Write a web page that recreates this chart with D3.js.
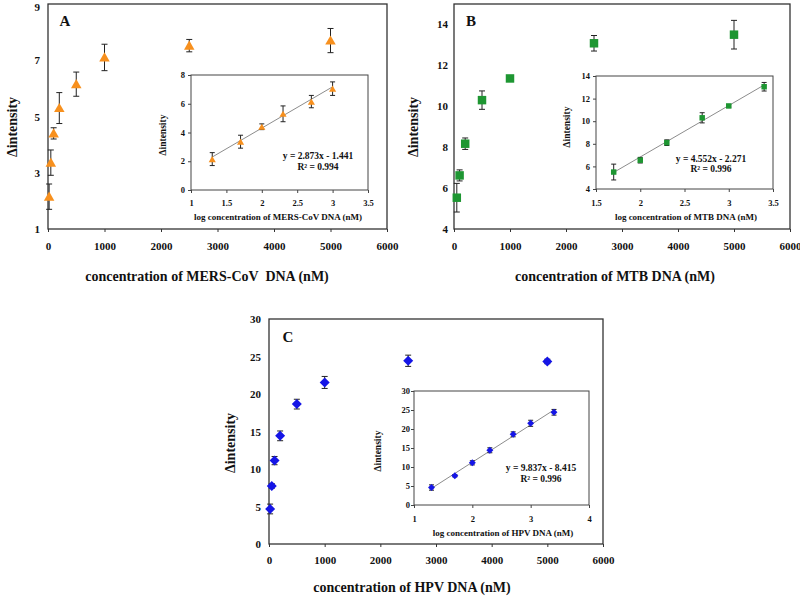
<!DOCTYPE html>
<html>
<head>
<meta charset="utf-8">
<script src="https://cdn.jsdelivr.net/npm/d3@7"></script>
<style>
  html, body { margin: 0; padding: 0; background: #fff; }
  svg text { font-family: "Liberation Serif", "Times New Roman", serif; font-weight: bold; fill: #111; }
</style>
</head>
<body>
<svg id="chart" width="800" height="597"></svg>
<script>
// ---------------- DATA ----------------
// Panel A : MERS-CoV
const concA   = [20, 50, 100, 200, 500, 1000, 2500, 5000];
const intA    = [2.15, 3.36, 4.4, 5.3, 6.15, 7.1, 7.52, 7.7];
const errA    = [0.45, 0.45, 0.2, 0.55, 0.43, 0.47, 0.22, 0.43];
const logA    = [1.3, 1.7, 2, 2.3, 2.7, 3];
const logIntA = [2.15, 3.36, 4.4, 5.3, 6.15, 7.05];
const logErrA = [0.45, 0.45, 0.2, 0.55, 0.43, 0.47];
const fitA    = { slope: 2.873, intercept: -1.441, eq: "y = 2.873x - 1.441", r2: "R² = 0.994" };

// Panel B : MTB
const concB   = [50, 100, 200, 500, 1000, 2500, 5000];
const intB    = [5.53, 6.62, 8.17, 10.3, 11.36, 13.08, 13.5];
const errB    = [0.7, 0.27, 0.28, 0.45, 0.1, 0.38, 0.7];
const logB    = [1.7, 2, 2.3, 2.7, 3, 3.4];
const logIntB = [5.5, 6.55, 8.1, 10.3, 11.35, 13.05];
const logErrB = [0.7, 0.25, 0.25, 0.45, 0.1, 0.38];
const fitB    = { slope: 4.552, intercept: -2.271, eq: "y = 4.552x - 2.271", r2: "R² = 0.996" };

// Panel C : HPV
const concC   = [20, 50, 100, 200, 500, 1000, 2500, 5000];
const intC    = [4.67, 7.74, 11.12, 14.42, 18.65, 21.54, 24.43, 24.34];
const errC    = [0.65, 0.3, 0.55, 0.65, 0.65, 0.8, 0.75, 0.3];
const logC    = [1.3, 1.7, 2, 2.3, 2.7, 3, 3.4];
const logIntC = [4.6, 7.7, 11.1, 14.4, 18.6, 21.5, 24.4];
const logErrC = [0.7, 0.3, 0.55, 0.65, 0.65, 0.8, 0.75];
const fitC    = { slope: 9.837, intercept: -8.415, eq: "y = 9.837x - 8.415", r2: "R² = 0.996" };

// Axis ticks
const mainXTicks  = [0, 1000, 2000, 3000, 4000, 5000, 6000];
const mainYTicksA = [1, 3, 5, 7, 9];
const mainYTicksB = [4, 6, 8, 10, 12, 14];
const mainYTicksC = [0, 5, 10, 15, 20, 25, 30];
const insXTicksA  = [1, 1.5, 2, 2.5, 3, 3.5];
const insYTicksA  = [0, 2, 4, 6, 8];
const insXTicksB  = [1.5, 2, 2.5, 3, 3.5];
const insYTicksB  = [4, 6, 8, 10, 12, 14];
const insXTicksC  = [1, 2, 3, 4];
const insYTicksC  = [0, 5, 10, 15, 20, 25, 30];

const titles = {
  A: "concentration of MERS-CoV  DNA (nM)",
  B: "concentration of MTB DNA (nM)",
  C: "concentration of HPV DNA (nM)"
};
const insTitles = {
  A: "log concentration of MERS-CoV DNA (nM)",
  B: "log concentration of MTB DNA (nM)",
  C: "log concentration of HPV DNA (nM)"
};

// ---------------- LAYOUT ----------------
const svg = d3.select("#chart");

const panels = [
  {
    id: "A", color: "#F7901E", symbol: "triangle",
    conc: concA, val: intA, err: errA, log: logA, logVal: logIntA, logErr: logErrA, fit: fitA,
    main: { x0: 48, x1: 387, y0: 229, y1: 4, yDom: [1, 9], yTicks: mainYTicksA, labelRight: 40,
            yTitleX: 12, yTitleY: 127, xLabY: 246, xTitleX: 207, xTitleY: 276, letter: [65, 21] },
    ins:  { x0: 191, x1: 368, y0: 190, y1: 75, xDom: [1, 3.5], yDom: [0, 8], xTicks: insXTicksA, yTicks: insYTicksA,
            labelRight: 185, yTitleX: 163, yTitleY: 135, xLabY: 203, xTitleX: 278, xTitleY: 217,
            eqX: 318, eqY: 156, r2Y: 167 }
  },
  {
    id: "B", color: "#1E9632", symbol: "square",
    conc: concB, val: intB, err: errB, log: logB, logVal: logIntB, logErr: logErrB, fit: fitB,
    main: { x0: 454, x1: 790, y0: 229, y1: 4, yDom: [4, 15], yTicks: mainYTicksB, labelRight: 448,
            yTitleX: 413, yTitleY: 127, xLabY: 246, xTitleX: 615, xTitleY: 276, letter: [471, 21] },
    ins:  { x0: 596, x1: 773, y0: 189, y1: 76, xDom: [1.5, 3.5], yDom: [4, 14], xTicks: insXTicksB, yTicks: insYTicksB,
            labelRight: 590, yTitleX: 567, yTitleY: 127, xLabY: 203, xTitleX: 686, xTitleY: 217,
            eqX: 711, eqY: 159, r2Y: 169 }
  },
  {
    id: "C", color: "#1515E6", symbol: "diamond",
    conc: concC, val: intC, err: errC, log: logC, logVal: logIntC, logErr: logErrC, fit: fitC,
    main: { x0: 269, x1: 603, y0: 544, y1: 319, yDom: [0, 30], yTicks: mainYTicksC, labelRight: 261,
            yTitleX: 230, yTitleY: 443, xLabY: 560, xTitleX: 412, xTitleY: 587, letter: [288, 337] },
    ins:  { x0: 414, x1: 589, y0: 505, y1: 391, xDom: [1, 4], yDom: [0, 30], xTicks: insXTicksC, yTicks: insYTicksC,
            labelRight: 410, yTitleX: 378, yTitleY: 451, xLabY: 519, xTitleX: 503, xTitleY: 533,
            eqX: 541, eqY: 468, r2Y: 479 }
  }
];

function symbolPath(kind, big) {
  if (kind === "triangle") return d3.symbol().type(d3.symbolTriangle).size(big ? 48 : 22)();
  if (kind === "square")   return d3.symbol().type(d3.symbolSquare).size(big ? 72 : 30)();
  return d3.symbol().type(d3.symbolSquare).size(big ? 50 : 24)(); // rotated below
}

function drawSeries(g, xs, ys, es, xScale, yScale, p, big) {
  const cap = big ? 3 : 2.5;
  const idx = d3.range(xs.length);
  const eb = g.append("g");
  idx.forEach(i => {
    const cx = xScale(xs[i]);
    const yt = yScale(ys[i] + es[i]), yb = yScale(ys[i] - es[i]);
    eb.append("line").attr("x1", cx).attr("x2", cx).attr("y1", yt).attr("y2", yb)
      .attr("stroke", "#222").attr("stroke-width", 1);
    [yt, yb].forEach(yy => eb.append("line").attr("x1", cx - cap).attr("x2", cx + cap)
      .attr("y1", yy).attr("y2", yy).attr("stroke", "#222").attr("stroke-width", 1));
  });
  g.append("g").selectAll("path").data(idx).join("path")
    .attr("d", symbolPath(p.symbol, big))
    .attr("transform", i => `translate(${xScale(xs[i])},${yScale(ys[i]) + (p.symbol === "triangle" ? 1 : 0)})` + (p.symbol === "diamond" ? " rotate(45)" : ""))
    .attr("fill", p.color);
}

panels.forEach(p => {
  const m = p.main;
  const g = svg.append("g");
  const x = d3.scaleLinear().domain([0, 6000]).range([m.x0, m.x1]);
  const y = d3.scaleLinear().domain(m.yDom).range([m.y0, m.y1]);

  // frame
  g.append("rect").attr("x", m.x0).attr("y", m.y1).attr("width", m.x1 - m.x0).attr("height", m.y0 - m.y1)
    .attr("fill", "#fff").attr("stroke", "#333").attr("stroke-width", 1.3);

  // axes
  const xAxis = d3.axisBottom(x).tickValues(mainXTicks).tickSize(3).tickFormat(d3.format("d"));
  const gx = g.append("g").attr("transform", `translate(0,${m.y0})`).call(xAxis);
  gx.select(".domain").remove();
  gx.selectAll(".tick line").attr("stroke", "#333");
  gx.selectAll(".tick text").attr("y", m.xLabY - m.y0).attr("dy", "0.35em").attr("font-size", 11);

  const yAxis = d3.axisLeft(y).tickValues(m.yTicks).tickSize(0);
  const gy = g.append("g").attr("transform", `translate(${m.x0},0)`).call(yAxis);
  gy.select(".domain").remove();
  gy.selectAll(".tick text").attr("x", m.labelRight - m.x0).attr("font-size", 11)
    .attr("dy", d => (y(d) < 8 ? "0.62em" : "0.32em"));
  gy.attr("font-family", null).attr("font-size", null);
  gx.attr("font-family", null).attr("font-size", null);

  // titles
  g.append("text").attr("transform", `translate(${m.yTitleX},${m.yTitleY}) rotate(-90)`)
    .attr("text-anchor", "middle").attr("dominant-baseline", "central").attr("font-size", 14).text("Δintensity");
  g.append("text").attr("x", m.xTitleX).attr("y", m.xTitleY).attr("text-anchor", "middle")
    .attr("dominant-baseline", "central").attr("font-size", 14).style("white-space", "pre").text(titles[p.id]);
  g.append("text").attr("x", m.letter[0]).attr("y", m.letter[1]).attr("text-anchor", "middle")
    .attr("dominant-baseline", "central").attr("font-size", 15).text(p.id);

  drawSeries(g, p.conc, p.val, p.err, x, y, p, true);

  // ---- inset ----
  const s = p.ins;
  const gi = svg.append("g");
  const xi = d3.scaleLinear().domain(s.xDom).range([s.x0, s.x1]);
  const yi = d3.scaleLinear().domain(s.yDom).range([s.y0, s.y1]);
  gi.append("rect").attr("x", s.x0).attr("y", s.y1).attr("width", s.x1 - s.x0).attr("height", s.y0 - s.y1)
    .attr("fill", "#fff").attr("stroke", "#444").attr("stroke-width", 1);

  const xiAxis = d3.axisBottom(xi).tickValues(s.xTicks).tickSize(3).tickFormat(d3.format("~g"));
  const gxi = gi.append("g").attr("transform", `translate(0,${s.y0})`).call(xiAxis);
  gxi.select(".domain").remove();
  gxi.selectAll(".tick line").attr("stroke", "#444");
  gxi.selectAll(".tick text").attr("y", s.xLabY - s.y0).attr("dy", "0.35em").attr("font-size", 8.5);
  gxi.attr("font-family", null).attr("font-size", null);

  const yiAxis = d3.axisLeft(yi).tickValues(s.yTicks).tickSize(3);
  const gyi = gi.append("g").attr("transform", `translate(${s.x0},0)`).call(yiAxis);
  gyi.select(".domain").remove();
  gyi.selectAll(".tick line").attr("stroke", "#444");
  gyi.selectAll(".tick text").attr("x", s.labelRight - s.x0).attr("font-size", 8.5);
  gyi.attr("font-family", null).attr("font-size", null);

  gi.append("text").attr("transform", `translate(${s.yTitleX},${s.yTitleY}) rotate(-90)`)
    .attr("text-anchor", "middle").attr("dominant-baseline", "central").attr("font-size", 9.5).text("Δintensity");
  gi.append("text").attr("x", s.xTitleX).attr("y", s.xTitleY).attr("text-anchor", "middle")
    .attr("dominant-baseline", "central").attr("font-size", 9).text(insTitles[p.id]);

  // trend line
  const lx = d3.extent(p.log);
  gi.append("line")
    .attr("x1", xi(lx[0])).attr("y1", yi(p.fit.slope * lx[0] + p.fit.intercept))
    .attr("x2", xi(lx[1])).attr("y2", yi(p.fit.slope * lx[1] + p.fit.intercept))
    .attr("stroke", "#8c8c8c").attr("stroke-width", 1);

  drawSeries(gi, p.log, p.logVal, p.logErr, xi, yi, p, false);

  gi.append("text").attr("x", s.eqX).attr("y", s.eqY).attr("text-anchor", "middle")
    .attr("dominant-baseline", "central").attr("font-size", 9.5).text(p.fit.eq);
  gi.append("text").attr("x", s.eqX).attr("y", s.r2Y).attr("text-anchor", "middle")
    .attr("dominant-baseline", "central").attr("font-size", 9.5).text(p.fit.r2);
});
</script>
</body>
</html>
